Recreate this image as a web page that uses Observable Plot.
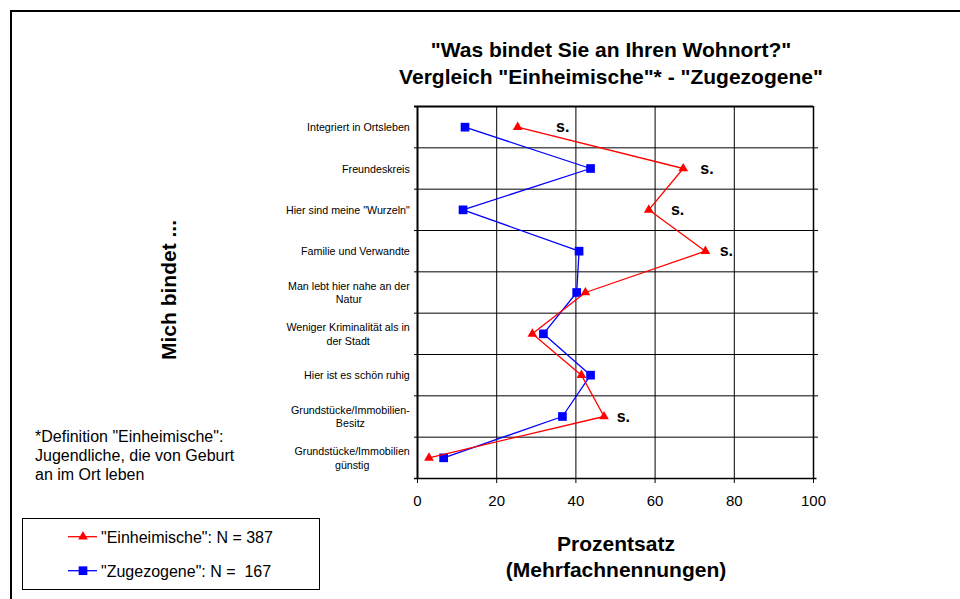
<!DOCTYPE html>
<html>
<head>
<meta charset="utf-8">
<script src="https://cdn.jsdelivr.net/npm/d3@7"></script>
<script src="https://cdn.jsdelivr.net/npm/@observablehq/plot@0.6"></script>
<style>
  html, body { margin: 0; padding: 0; background: #fff; }
  body { width: 960px; height: 599px; overflow: hidden; position: relative;
         font-family: "Liberation Sans", Arial, sans-serif; color: #000; }
  .abs { position: absolute; }
  #frame { left: 10px; top: 10px; width: 1200px; height: 900px;
           border-left: 2px solid #000; border-top: 2px solid #000; }
  #title { left: 311px; top: 37px; width: 600px; text-align: center;
           font-weight: bold; font-size: 21px; line-height: 26.6px; white-space: nowrap; }
  #xlabel { left: 416px; top: 531px; width: 400px; text-align: center;
            font-weight: bold; font-size: 21px; line-height: 26px; white-space: nowrap; }
  #ylabel { left: 168px; top: 290px; transform: translate(-50%, -50%) rotate(-90deg);
            font-weight: bold; font-size: 21px; line-height: 1; white-space: nowrap; }
  #note { left: 35px; top: 427px; font-size: 16px; line-height: 19px; white-space: nowrap; }
  #legend { left: 22px; top: 518px; }
</style>
</head>
<body>
<div id="frame" class="abs"></div>
<div id="chart" class="abs" style="left:0;top:0"></div>
<div id="title" class="abs">"Was bindet Sie an Ihren Wohnort?"<br>Vergleich "Einheimische"* - "Zugezogene"</div>
<div id="ylabel" class="abs">Mich bindet ...</div>
<div id="xlabel" class="abs">Prozentsatz<br>(Mehrfachnennungen)</div>
<div id="note" class="abs">*Definition "Einheimische":<br>Jugendliche, die von Geburt<br>an im Ort leben</div>
<svg id="legend" class="abs" width="298" height="72"></svg>
<script>
// ---- data ----
const categories = [
  "Integriert in Ortsleben",
  "Freundeskreis",
  "Hier sind meine \"Wurzeln\"",
  "Familie und Verwandte",
  "Man lebt hier nahe an der\nNatur",
  "Weniger Kriminalität als in\nder Stadt",
  "Hier ist es schön ruhig",
  "Grundstücke/Immobilien-\nBesitz",
  "Grundstücke/Immobilien\ngünstig"
];
const einheimische = [25.3, 67.1, 58.4, 72.7, 42.4, 29.0, 41.4, 47.1, 2.9];
const zugezogene   = [12.0, 43.7, 11.5, 40.8, 40.2, 31.8, 43.7, 36.6, 6.6];
// significance marks "s." and where (in percent) they are written
const significant = [true, true, true, true, false, false, false, true, false];
const sigLabelAt  = [35, 71.4, 64, 76.3, null, null, null, 50.3, null];
const xTicks = [0, 20, 40, 60, 80, 100];
const seriesNames = ["\"Einheimische\": N = 387", "\"Zugezogene\": N =  167"];
const seriesColors = ["#ff0000", "#0000ff"];

// ---- derived tables ----
const rowsE = categories.map((c, i) => ({cat: c, idx: i, value: einheimische[i]}));
const rowsZ = categories.map((c, i) => ({cat: c, idx: i, value: zugezogene[i]}));
const sigRows = categories.map((c, i) => ({idx: i, at: sigLabelAt[i], sig: significant[i]})).filter(d => d.sig);
const boundaries = d3.range(categories.length + 1).map(i => i - 0.5);
const inner = boundaries.slice(1, -1);
const first = boundaries[0], last = boundaries[boundaries.length - 1];

const font = "'Liberation Sans', Arial, sans-serif";
const ctx = document.createElement("canvas").getContext("2d");
ctx.font = "10.7px " + font;
const measure = s => ctx.measureText(s).width;

const labelMarks = categories.map((c, i) => {
  const w = Math.max(...c.split("\n").map(measure));
  return Plot.text([i], {
    y: d => d, text: () => c, frameAnchor: "left", textAnchor: "middle",
    dx: -7.7 - w / 2, lineAnchor: "middle", lineHeight: 1.25, fontSize: 10.7, fill: "#000"
  });
});

const chart = Plot.plot({
  width: 960, height: 599,
  marginLeft: 417, marginRight: 147, marginTop: 106, marginBottom: 121,
  style: {fontFamily: font, fontSize: "10.7px", color: "#000", background: "transparent", overflow: "visible"},
  x: {domain: [0, 100]},
  y: {domain: [first, last], reverse: true, axis: null},
  marks: [
    Plot.ruleX(xTicks.slice(1, -1), {stroke: "#000", strokeWidth: 1}),
    Plot.ruleY(inner, {stroke: "#000", strokeWidth: 1, insetLeft: -3, insetRight: -5}),
    Plot.ruleY([first], {stroke: "#000", strokeWidth: 2, insetLeft: -3}),
    Plot.ruleY([last], {stroke: "#000", strokeWidth: 1.5, insetLeft: -3, insetRight: -3.5}),
    Plot.ruleX([xTicks[0]], {stroke: "#000", strokeWidth: 2}),
    Plot.ruleX([xTicks[xTicks.length - 1]], {stroke: "#000", strokeWidth: 1.5}),
    Plot.axisX({ticks: xTicks, tickSize: 5, tickPadding: 12, fontSize: 15, label: null, stroke: "#000", fill: "#000"}),
    ...labelMarks,
    Plot.line(rowsZ, {x: "value", y: "idx", stroke: seriesColors[1], strokeWidth: 1.3}),
    Plot.dot(rowsZ, {x: "value", y: "idx", symbol: "square", fill: seriesColors[1], r: 4.9}),
    Plot.line(rowsE, {x: "value", y: "idx", stroke: seriesColors[0], strokeWidth: 1.3}),
    Plot.dot(rowsE, {x: "value", y: "idx", symbol: "triangle", fill: seriesColors[0], r: 3.6}),
    Plot.text(sigRows, {x: "at", y: "idx", text: () => "s.", fontSize: 16, fontWeight: "bold",
                        textAnchor: "start", lineAnchor: "middle", fill: "#000"})
  ]
});
document.getElementById("chart").appendChild(chart);

// ---- legend ----
const leg = d3.select("#legend");
leg.append("rect").attr("x", 0.5).attr("y", 0.5).attr("width", 297).attr("height", 71)
  .attr("fill", "none").attr("stroke", "#000").attr("stroke-width", 1);
const symbols = [d3.symbolTriangle, d3.symbolSquare];
const sizes = [Math.PI * 3.6 * 3.6, Math.PI * 4.9 * 4.9];
const rowY = [18.7, 52.7];
seriesNames.forEach((name, i) => {
  const g = leg.append("g");
  g.append("line").attr("x1", 46).attr("x2", 75).attr("y1", rowY[i]).attr("y2", rowY[i])
    .attr("stroke", seriesColors[i]).attr("stroke-width", 1.3);
  g.append("path").attr("d", d3.symbol(symbols[i], sizes[i])())
    .attr("transform", `translate(61,${rowY[i]})`).attr("fill", seriesColors[i]);
  g.append("text").attr("x", 79).attr("y", rowY[i] + 6.3)
    .attr("font-family", font).attr("font-size", 16).attr("fill", "#000")
    .style("white-space", "pre").text(name);
});
</script>
</body>
</html>
